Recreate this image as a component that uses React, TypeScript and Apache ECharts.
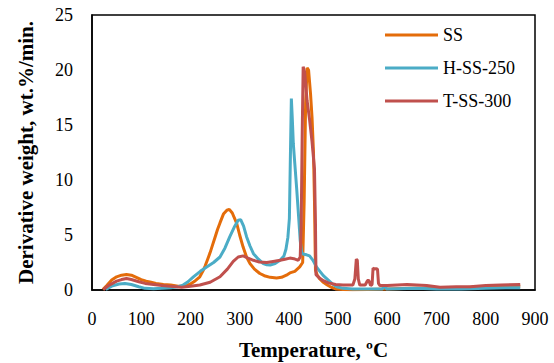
import React, { useEffect, useRef } from "react";
import * as echarts from "echarts";

const seriesNames = ["SS", "H-SS-250", "T-SS-300"];
const seriesColors = ["#E46C0A", "#4BACC6", "#C0504D"];

const ssTemp = [22, 30, 40, 50, 60, 70, 80, 90, 100, 110, 120, 130, 145, 160, 175, 190, 200, 210, 219, 225, 230, 235, 240, 245, 250, 255, 260, 267, 274, 279, 285, 294, 300, 307, 314, 321, 330, 341, 350, 362, 375, 385, 395, 402, 412, 422, 428, 431, 434, 437, 440, 444, 447, 450, 452, 454, 458, 463, 470, 478, 486, 495, 510, 530, 560, 600, 650, 700, 750, 800, 840, 870];
const ssValue = [0.05, 0.4, 0.9, 1.2, 1.35, 1.4, 1.35, 1.15, 0.95, 0.8, 0.7, 0.6, 0.5, 0.45, 0.35, 0.35, 0.55, 0.85, 1.2, 1.7, 2.2, 2.8, 3.4, 4.1, 4.8, 5.5, 6.1, 6.9, 7.25, 7.33, 7.0, 6.05, 5.0, 3.9, 3.0, 2.4, 1.9, 1.5, 1.3, 1.15, 1.1, 1.15, 1.35, 1.55, 1.7, 2.1, 2.5, 8, 17, 20.2, 20.0, 17.8, 15.7, 12.5, 8, 1.8, 1.3, 1.0, 0.7, 0.45, 0.25, 0.1, 0.05, 0.03, 0.05, 0.1, 0.15, 0.15, 0.2, 0.3, 0.35, 0.35];

const hssTemp = [28, 40, 55, 67, 80, 95, 108, 125, 142, 160, 175, 185, 195, 206, 220, 233, 247, 260, 270, 280, 290, 297, 302, 308, 314, 321, 328, 338, 348, 355, 362, 372, 382, 390, 394, 398, 401, 403, 405, 407, 409, 412, 416, 420, 423, 426, 430, 436, 442, 449, 456, 463, 470, 480, 490, 497, 510, 530, 560, 590, 595, 598, 620, 660, 700, 750, 800, 840, 870];
const hssValue = [0.05, 0.35, 0.55, 0.6, 0.5, 0.3, 0.15, 0.12, 0.15, 0.2, 0.3, 0.45, 0.75, 1.2, 1.7, 2.1, 2.5, 3.0, 3.8, 4.85, 5.8, 6.35, 6.4, 5.8, 4.85, 4.0, 3.3, 2.8, 2.4, 2.3, 2.27, 2.4, 2.7, 3.1, 3.7, 4.8, 6.5, 12, 17.4, 15.5, 13.3, 11.5, 9.1, 6.5, 4.5, 3.4, 3.25, 3.2, 3.1, 2.7, 2.1, 1.7, 1.3, 0.9, 0.5, 0.3, 0.15, 0.1, 0.08, 0.1, 0.45, 0.1, 0.12, 0.15, 0.1, 0.1, 0.15, 0.2, 0.2];

const tssTemp = [23, 35, 50, 60, 70, 80, 95, 108, 125, 142, 160, 182, 200, 219, 240, 260, 275, 287, 297, 307, 317, 328, 340, 355, 368, 382, 392, 402, 410, 419, 423, 425, 427, 429, 432, 437, 442, 447, 452, 454, 455, 462, 470, 480, 495, 510, 530, 534, 537, 539, 541, 544, 555, 559, 561, 563, 566, 569, 571, 574, 577, 580, 582, 585, 600, 620, 640, 660, 680, 707, 740, 768, 800, 830, 870];
const tssValue = [0.05, 0.45, 0.8, 0.95, 1.05, 0.95, 0.75, 0.6, 0.5, 0.4, 0.33, 0.25, 0.35, 0.45, 0.7, 1.2, 1.9, 2.6, 3.0, 3.1, 2.9, 2.7, 2.55, 2.5, 2.6, 2.7, 2.8, 2.9, 2.85, 2.7, 3.0, 6, 14, 20.3, 19.8, 17.2, 15.5, 13.5, 11, 6, 1.4, 1.1, 0.85, 0.65, 0.5, 0.45, 0.45, 1.0, 2.8, 2.7, 1.0, 0.45, 0.45, 0.8, 0.9, 0.8, 0.4, 0.5, 2.0, 1.9, 1.95, 1.9, 0.6, 0.4, 0.4, 0.45, 0.5, 0.45, 0.4, 0.25, 0.3, 0.3, 0.4, 0.45, 0.5];

const xTicks = { min: 0, max: 900, interval: 100 };
const yTicks = { min: 0, max: 25, interval: 5 };

const temps = [ssTemp, hssTemp, tssTemp];
const values = [ssValue, hssValue, tssValue];

const FONT = "Liberation Serif";

export default function App() {
  const ref = useRef<HTMLDivElement>(null);
  useEffect(() => {
    if (!ref.current) return;
    const chart = echarts.init(ref.current, undefined, { renderer: "svg" });
    chart.setOption({
      animation: false,
      textStyle: { fontFamily: FONT },
      grid: {
        left: 92,
        right: 19,
        top: 15,
        bottom: 73,
        show: true,
        borderColor: "#000",
        borderWidth: 1.5,
        outerBoundsMode: "none",
        containLabel: false,
      },
      legend: {
        orient: "vertical",
        left: 380,
        top: 21,
        icon: "rect",
        itemWidth: 53,
        itemHeight: 3,
        itemGap: 15,
        textStyle: { fontFamily: FONT, fontSize: 18, color: "#000" },
        data: seriesNames,
      },
      xAxis: {
        type: "value",
        min: xTicks.min,
        max: xTicks.max,
        interval: xTicks.interval,
        name: "Temperature, ºC",
        nameLocation: "middle",
        nameGap: 49,
        nameTextStyle: { fontFamily: FONT, fontSize: 21, fontWeight: "bold", color: "#000" },
        axisLine: { lineStyle: { color: "#000", width: 1.5 } },
        axisTick: { show: false },
        splitLine: { show: false },
        axisLabel: { fontFamily: FONT, fontSize: 18, color: "#000", margin: 20 },
      },
      yAxis: {
        type: "value",
        min: yTicks.min,
        max: yTicks.max,
        interval: yTicks.interval,
        name: "Derivative weight, wt.%/min.",
        nameLocation: "middle",
        nameGap: 56,
        nameTextStyle: { fontFamily: FONT, fontSize: 21, fontWeight: "bold", color: "#000" },
        axisLine: { show: true, lineStyle: { color: "#000", width: 1.5 } },
        axisTick: { show: false },
        splitLine: { show: false },
        axisLabel: { fontFamily: FONT, fontSize: 18, color: "#000", margin: 19 },
      },
      series: seriesNames.map((name, i) => ({
        name,
        type: "line",
        showSymbol: false,
        symbol: "none",
        lineStyle: { color: seriesColors[i], width: 3 },
        itemStyle: { color: seriesColors[i] },
        data: temps[i].map((t, j) => [t, values[i][j]]),
      })),
    });
    return () => chart.dispose();
  }, []);
  return <div ref={ref} style={{ width: 554, height: 363, position: "absolute", left: 0, top: 0 }} />;
}
